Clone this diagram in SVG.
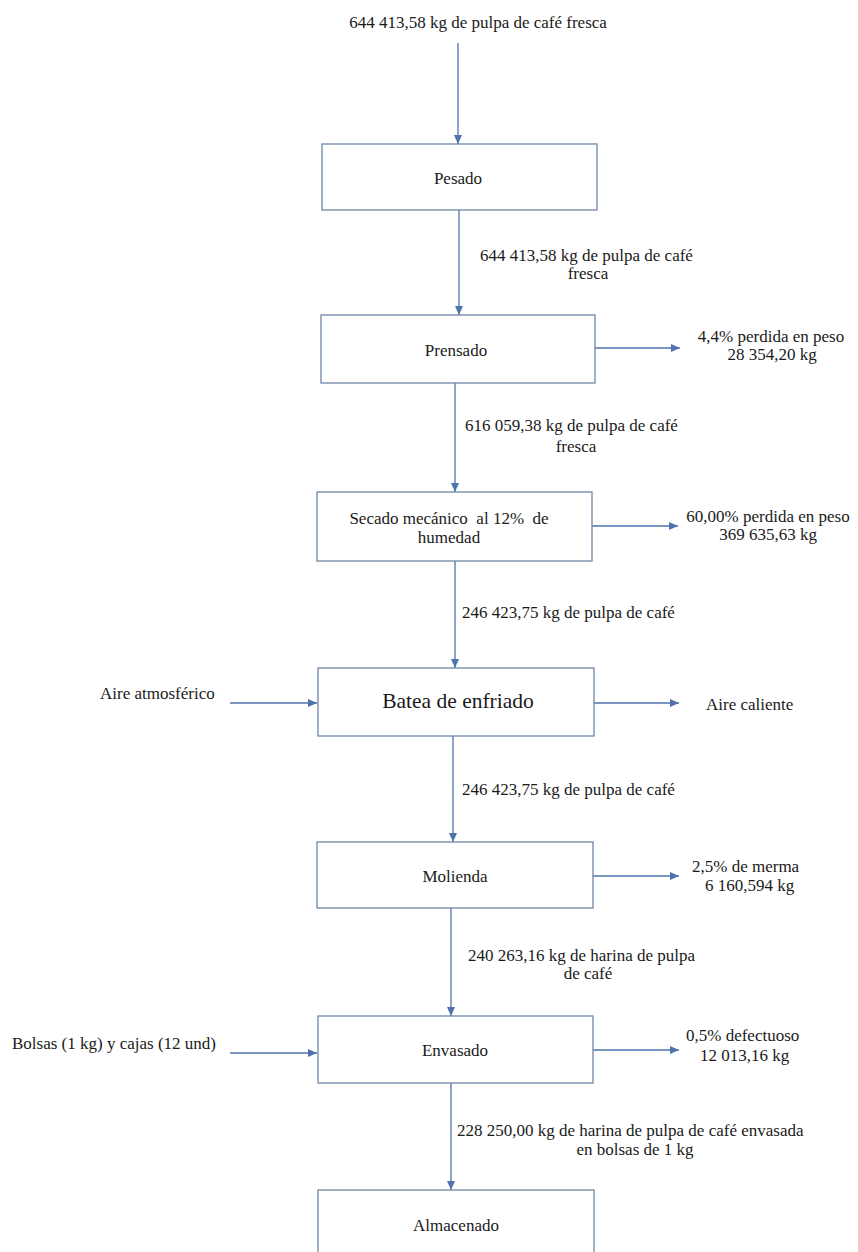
<svg xmlns="http://www.w3.org/2000/svg" width="858" height="1252" viewBox="0 0 858 1252">
<style>
.t{font-family:'Liberation Serif','Tinos','Times New Roman','DejaVu Serif',serif;font-size:17px;fill:#1a1a1a}
.c{text-anchor:middle}
.big{font-size:21.5px}
.box{fill:#fff;stroke:#7086a6;stroke-width:1.3}
.ar{fill:none;stroke:#4f72ad;stroke-width:1.3;marker-end:url(#ah)}
</style>
<defs>
<marker id="ah" markerUnits="userSpaceOnUse" markerWidth="10" markerHeight="8" refX="9" refY="4" orient="auto">
<path d="M0,0 L9,4 L0,8 Z" fill="#4f72ad"/>
</marker>
</defs>
<rect width="858" height="1252" fill="#fff"/>
<g id="connectors">
<line class="ar" x1="458" y1="43" x2="458" y2="144"/>
<line class="ar" x1="459" y1="210" x2="459" y2="315"/>
<line class="ar" x1="455" y1="383" x2="455" y2="492"/>
<line class="ar" x1="455" y1="561" x2="455" y2="668"/>
<line class="ar" x1="453" y1="736" x2="453" y2="842"/>
<line class="ar" x1="451" y1="908" x2="451" y2="1016"/>
<line class="ar" x1="451" y1="1083" x2="451" y2="1190"/>
<line class="ar" x1="594" y1="348" x2="680" y2="348"/>
<line class="ar" x1="592" y1="526" x2="678" y2="526"/>
<line class="ar" x1="230" y1="703" x2="317" y2="703"/>
<line class="ar" x1="594" y1="703" x2="679" y2="703"/>
<line class="ar" x1="593" y1="876" x2="679" y2="876"/>
<line class="ar" x1="230" y1="1053" x2="317" y2="1053"/>
<line class="ar" x1="593" y1="1050" x2="679" y2="1050"/>
</g>
<g id="labels">
<text class="t c" x="478" y="28">644 413,58 kg de pulpa de café fresca</text>
<text class="t" x="480" y="261">644 413,58 kg de pulpa de café</text>
<text class="t c" x="588" y="279">fresca</text>
<text class="t" x="465" y="431">616 059,38 kg de pulpa de café</text>
<text class="t c" x="576" y="452">fresca</text>
<text class="t" x="462" y="618">246 423,75 kg de pulpa de café</text>
<text class="t" x="462" y="795">246 423,75 kg de pulpa de café</text>
<text class="t" x="468" y="961">240 263,16 kg de harina de pulpa</text>
<text class="t c" x="588" y="979">de café</text>
<text class="t" x="457" y="1136">228 250,00 kg de harina de pulpa de café envasada</text>
<text class="t c" x="635" y="1155">en bolsas de 1 kg</text>
<text class="t c" x="771" y="342">4,4% perdida en peso</text>
<text class="t c" x="772" y="360">28 354,20 kg</text>
<text class="t c" x="768" y="522">60,00% perdida en peso</text>
<text class="t c" x="768" y="540">369 635,63 kg</text>
<text class="t" x="100" y="699">Aire atmosférico</text>
<text class="t" x="706" y="710">Aire caliente</text>
<text class="t" x="692" y="872">2,5% de merma</text>
<text class="t" x="705" y="891">6 160,594 kg</text>
<text class="t" x="12" y="1049">Bolsas (1 kg) y cajas (12 und)</text>
<text class="t" x="686" y="1041">0,5% defectuoso</text>
<text class="t" x="700" y="1061">12 013,16 kg</text>
</g>
<g id="pesado"><rect class="box" x="322" y="144" width="275" height="66"/><text class="t c" x="458" y="184">Pesado</text></g>
<g id="prensado"><rect class="box" x="321" y="315" width="274" height="68"/><text class="t c" x="456" y="356">Prensado</text></g>
<g id="secado"><rect class="box" x="317" y="492" width="275" height="69"/><text class="t c" x="449" y="524" xml:space="preserve">Secado mecánico  al 12%  de</text><text class="t c" x="449" y="543">humedad</text></g>
<g id="batea"><rect class="box" x="318" y="668" width="276" height="68"/><text class="t c big" x="458" y="708">Batea de enfriado</text></g>
<g id="molienda"><rect class="box" x="317" y="842" width="276" height="66"/><text class="t c" x="455" y="882">Molienda</text></g>
<g id="envasado"><rect class="box" x="318" y="1016" width="275" height="67"/><text class="t c" x="455" y="1056">Envasado</text></g>
<g id="almacenado"><rect class="box" x="318" y="1190" width="276" height="80"/><text class="t c" x="456" y="1231">Almacenado</text></g>
</svg>
